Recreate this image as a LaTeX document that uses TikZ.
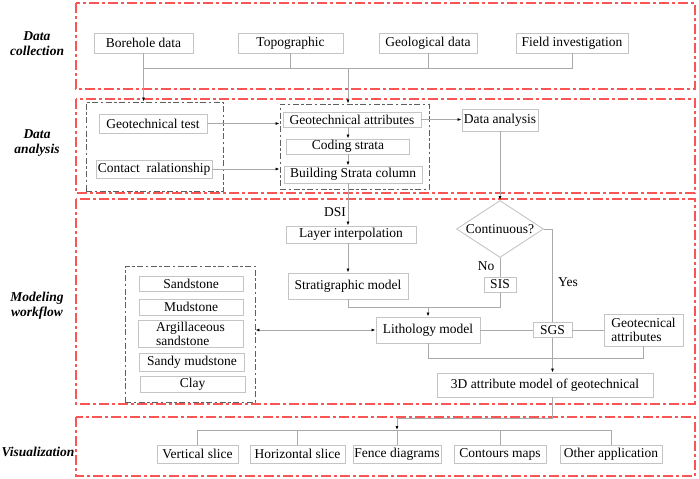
\documentclass[tikz,border=0pt]{standalone}
\usepackage{fontspec}
\setmainfont{Liberation Serif}
\usetikzlibrary{shapes.geometric,arrows.meta}
\definecolor{secred}{RGB}{250,85,85}
\definecolor{boxgray}{RGB}{196,196,196}
\definecolor{linegray}{RGB}{170,170,170}
\definecolor{grpgray}{RGB}{95,95,95}

\begin{document}
\begin{tikzpicture}[x=1pt,y=-1pt,
	font=\fontsize{13.5}{14}\selectfont,
	box/.style={draw=boxgray,line width=0.9pt,inner sep=0pt},
	section/.style={draw=secred,line width=1.5pt,dash pattern=on 10pt off 3pt on 3pt off 3pt},
	group/.style={draw=grpgray,line width=0.9pt,dash pattern=on 6pt off 2.5pt on 2.5pt off 2.5pt},
	decision/.style={diamond,draw=boxgray,line width=0.9pt,inner sep=0pt,aspect=1.5,minimum width=87pt,minimum height=57pt},
	title/.style={font=\fontsize{13.5}{15}\selectfont\bfseries\itshape,align=center},
	line/.style={draw=linegray,line width=0.8pt},
	arrow/.style={line,-{Latex[length=4pt,width=3pt,color=black]}},
	dblarrow/.style={line,{Latex[length=4pt,width=3pt,color=black]}-{Latex[length=4pt,width=3pt,color=black]}}]
	\useasboundingbox (0,0) rectangle (699,479);
	\draw[section] (76,3) rectangle (695,89);
	\draw[section] (76,99) rectangle (695,193);
	\draw[section] (76,199) rectangle (695,404);
	\draw[section] (76,417) rectangle (695,476);
	\node[title](tcol) at (37,44) {Data\\collection};
	\node[title](tana) at (37,143) {Data\\analysis};
	\node[title](tmod) at (37,306) {Modeling\\workflow};
	\node[title](tvis) at (38,452) {Visualization};

	\node[box,minimum width=99pt,minimum height=20pt](bore) at (143.5,43) {Borehole data};
	\node[box,minimum width=105pt,minimum height=20pt](topo) at (290.5,43) {Topographic};
	\node[box,minimum width=98pt,minimum height=20pt](geol) at (428,43) {Geological data};
	\node[box,minimum width=112pt,minimum height=20pt](field) at (572,43) {Field investigation};

	\node[group,minimum width=137pt,minimum height=89pt](grpL) at (154.5,146.5) {};
	\node[group,minimum width=149pt,minimum height=85pt](grpR) at (354.5,146.5) {};
	\node[box,minimum width=108pt,minimum height=19pt](geotest) at (153,123.5) {Geotechnical test};
	\node[box,minimum width=116pt,minimum height=18pt](contact) at (154,169) {Contact~ ralationship};
	\node[box,minimum width=138pt,minimum height=15pt](gattr) at (352,119.5) {Geotechnical attributes};
	\node[box,minimum width=123pt,minimum height=15pt](coding) at (348,146.5) {Coding strata};
	\node[box,minimum width=138pt,minimum height=17pt](build) at (353,174.5) {Building Strata column};
	\node[box,minimum width=76pt,minimum height=22pt](dana) at (500,120) {Data analysis};

	\node(dsi) at (335,212) {DSI};
	\node[box,minimum width=130pt,minimum height=17pt](layer) at (351,234.5) {Layer interpolation};
	\node[box,minimum width=120pt,minimum height=26pt](strat) at (348,286) {Stratigraphic model};
	\node[decision](cont) at (500,229) {Continuous?};
	\node(no) at (486,266) {No};
	\node(yes) at (568,282) {Yes};
	\node[box,minimum width=32pt,minimum height=15pt](sis) at (500,284.5) {SIS};
	\node[box,minimum width=104pt,minimum height=26pt](litho) at (428,330) {Lithology model};
	\node[box,minimum width=39pt,minimum height=15pt](sgs) at (552.5,330) {SGS};
	\node[box,minimum width=79pt,minimum height=32pt,align=left](gatt2) at (643.5,330) {Geotecnical\\attributes};
	\node[box,minimum width=216pt,minimum height=24pt](model3d) at (545,385) {3D attribute model of geotechnical};

	\node[group,minimum width=130pt,minimum height=136pt](lith) at (190,334) {};
	\node[box,minimum width=104pt,minimum height=15pt](sand) at (191,283.5) {Sandstone};
	\node[box,minimum width=104pt,minimum height=16pt](mud) at (191,307) {Mudstone};
	\node[box,minimum width=105pt,minimum height=27pt,align=left](argil) at (190.5,333.5) {Argillaceous\\sandstone};
	\node[box,minimum width=105pt,minimum height=18pt](sandy) at (192,362) {Sandy mudstone};
	\node[box,minimum width=105pt,minimum height=16pt](clay) at (192.5,384) {Clay};

	\node[box,minimum width=81pt,minimum height=18pt](vert) at (197.5,454) {Vertical slice};
	\node[box,minimum width=95pt,minimum height=18pt](horiz) at (297.5,454) {Horizontal slice};
	\node[box,minimum width=88pt,minimum height=18pt](fence) at (397,454) {Fence diagrams};
	\node[box,minimum width=92pt,minimum height=18pt](contour) at (500,454) {Contours maps};
	\node[box,minimum width=102pt,minimum height=18pt](other) at (611,454) {Other application};

	\coordinate(busA) at (143.5,68);
	\coordinate(busB) at (348,68);
	\coordinate(jl) at (428,307);
	\coordinate(jm) at (552.5,358);
	\coordinate(jv) at (552.5,418);
	\coordinate(vbus) at (397,430);

	\draw[line](bore.south) |- (busA -| field.south) -- (field.south);
	\draw[line](topo.south) -- (topo.south |- busA);
	\draw[line](geol.south) -- (geol.south |- busA);
	\draw[arrow](busA) -- (busA |- grpL.north);
	\draw[arrow](busB) -- (busB |- grpR.north);
	\draw[arrow](geotest.east) -- (geotest.east -| grpR.west);
	\draw[arrow](contact.east) -- (contact.east -| grpR.west);
	\draw[arrow](gattr.south -| coding.north) -- (coding.north);
	\draw[arrow](coding.south) -- (coding.south |- build.north);
	\draw[arrow](gattr.east) -- (gattr.east -| dana.west);
	\draw[arrow](dana.south) -- (cont.north);
	\draw[arrow](coding.south |- build.south) -- (coding.south |- layer.north);
	\draw[arrow](coding.south |- layer.south) -- (coding.south |- strat.north);
	\draw[line](strat.south) |- (jl);
	\draw[line](cont.south) -- (sis.north);
	\draw[line](sis.south) |- (jl);
	\draw[arrow](jl) -- (litho.north);
	\draw[line](cont.east) -| (sgs.north);
	\draw[line](litho.east) -- (sgs.west);
	\draw[line](sgs.east) -- (gatt2.west);
	\draw[line](litho.south) |- (gatt2.south |- jm) -- (gatt2.south);
	\draw[arrow](sgs.south) -- (sgs.south |- model3d.north);
	\draw[dblarrow](litho.west) -- (litho.west -| lith.east);
	\draw[arrow](sgs.south |- model3d.south) |- (fence.north |- jv) -- (fence.north |- vbus);
	\draw[line](vert.north) |- (other.north |- vbus) -- (other.north);
	\draw[line](horiz.north) -- (horiz.north |- vbus);
	\draw[line](fence.north) -- (fence.north |- vbus);
	\draw[line](contour.north) -- (contour.north |- vbus);
\end{tikzpicture}
\end{document}
